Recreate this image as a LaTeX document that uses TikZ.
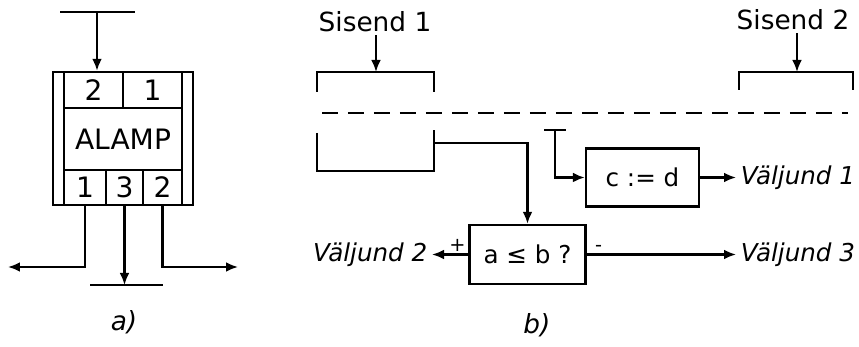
\documentclass[tikz,border=0pt]{standalone}
\usepackage{fontspec}
\setmainfont{DejaVu Sans}
\usetikzlibrary{arrows.meta}

\begin{document}
\begin{tikzpicture}[x=0.02cm,y=-0.02cm,line width=1.4pt,>={Latex[length=0.24cm,width=0.2cm]},
  cell/.style={draw,inner sep=0pt,font=\fontsize{16}{18}\selectfont},
  blok/.style={draw,inner sep=0pt,font=\fontsize{14}{16}\selectfont},
  lbl/.style={inner sep=1pt,font=\fontsize{15}{17}\selectfont},
  vlbl/.style={inner sep=2pt,font=\fontsize{14}{16}\selectfont\itshape},
  sgn/.style={inner sep=1pt,font=\fontsize{11}{12}\selectfont}]

\useasboundingbox (0,0) rectangle (859,347);

% a)
\draw (53,72) rectangle (193,205);
\draw (64,72) -- (64,205) (182,72) -- (182,205);
\node[cell,minimum width=1.18cm,minimum height=0.72cm] (i2) at (93.5,90) {2};
\node[cell,minimum width=1.18cm,minimum height=0.72cm] (i1) at (152.5,90) {1};
\node[cell,minimum width=2.36cm,minimum height=1.24cm] (alamp) at (123,139) {ALAMP};
\node[cell,minimum width=0.84cm,minimum height=0.7cm] (o1) at (85,187.5) {1};
\node[cell,minimum width=0.74cm,minimum height=0.7cm] (o3) at (124.5,187.5) {3};
\node[cell,minimum width=0.78cm,minimum height=0.7cm] (o2) at (162.5,187.5) {2};

\coordinate (inA) at (97,12);
\coordinate (outL) at (8,267);
\coordinate (outR) at (238,267);
\coordinate (outM) at (124.5,285);

\draw (60,12) -- (135,12);
\draw[->] (inA) -- (inA |- i2.north);
\draw[->] (o1.south) |- (outL);
\draw[->] (o2.south) |- (outR);
\draw[->] (o3.south) -- (outM);
\draw (90,285) -- (163,285);
\node[vlbl,font=\fontsize{15}{17}\selectfont\itshape] (capA) at (124,322) {a)};

% b)
\node[lbl] (s1) at (375,22) {Sisend 1};
\node[lbl] (s2) at (793,20) {Sisend 2};
\coordinate (b1) at (376,72);
\coordinate (b2) at (797,72);
\coordinate (ab) at (434,143);
\coordinate (tc) at (555,130);

\draw (317,92) -- (317,72) -- (434,72) -- (434,92);
\draw (739,90) -- (739,72) -- (853,72) -- (853,90);
\draw[->] (s1.south -| b1) -- (b1);
\draw[->] (s2.south -| b2) -- (b2);
\draw[dash pattern=on 0.32cm off 0.2cm] (322,113) -- (848,113);
\draw (317,133) -- (317,171) -- (434,171) -- (434,130);

\node[blok,minimum width=2.32cm,minimum height=1.18cm] (cmp) at (527.5,254.5) {a ≤ b ?};
\node[blok,minimum width=2.26cm,minimum height=1.16cm] (asg) at (642.5,177.5) {c := d};
\node[vlbl,anchor=west] (v1) at (736,177.5) {Väljund 1};
\node[vlbl,anchor=east] (v2) at (432,254.5) {Väljund 2};
\node[vlbl,anchor=west] (v3) at (736,254.5) {Väljund 3};

\draw[->] (ab) -| (cmp.north);
\draw (544,130) -- (566,130);
\draw[->] (tc) |- (asg.west);
\draw[->] (asg.east) -- (v1.west);
\draw[->] (cmp.west) -- (v2.east) node[sgn,pos=0.3,above]{+};
\draw[->] (cmp.east) -- (v3.west) node[sgn,pos=0.08,above]{-};

\node[vlbl,font=\fontsize{15}{17}\selectfont\itshape] (capB) at (537,325) {b)};
\end{tikzpicture}
\end{document}
